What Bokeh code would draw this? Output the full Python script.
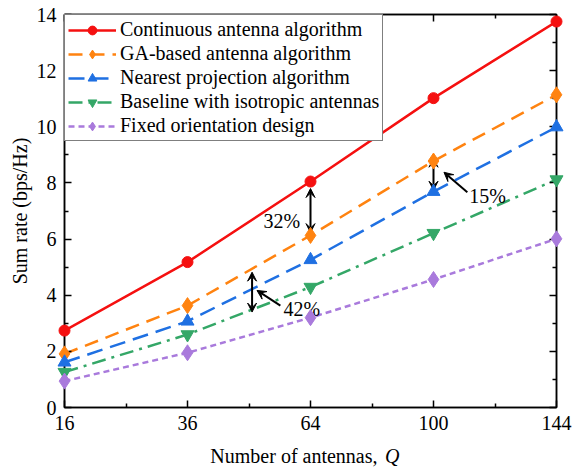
import numpy as np
from bokeh.plotting import figure
from bokeh.models import Range1d, LinearAxis, FixedTicker, Arrow, VeeHead, Label
from bokeh.core.properties import value
from bokeh.embed import file_html
from bokeh.resources import INLINE

# ---- data ----
Q = [16, 36, 64, 100, 144]
continuous = [2.74, 5.18, 8.05, 11.02, 13.75]
ga_based = [1.91, 3.63, 6.13, 8.78, 11.14]
nearest = [1.61, 3.07, 5.26, 7.69, 9.99]
baseline = [1.26, 2.60, 4.29, 6.21, 8.12]
fixed = [0.94, 1.95, 3.20, 4.56, 6.01]
series_names = ["Continuous antenna algorithm", "GA-based antenna algorithm",
                "Nearest projection algorithm", "Baseline with isotropic antennas",
                "Fixed orientation design"]
y_ticks = list(range(0, 15, 2))
y_minor = list(range(1, 14, 2))

FONT = "Liberation Serif"
FS = "20px"

x = [float(v) for v in np.sqrt(Q)]
x_minor = [(x[i] + x[i + 1]) / 2 for i in range(len(x) - 1)]

p = figure(width=576, height=468, output_backend="svg", toolbar_location=None,
           x_range=Range1d(x[0], x[-1]), y_range=Range1d(0, 14),
           x_axis_type=None, y_axis_type=None,
           min_border_left=64, min_border_right=20, min_border_top=14, min_border_bottom=61)
p.background_fill_color = "white"
p.border_fill_color = "white"
p.grid.visible = False
p.outline_line_color = "black"
p.outline_line_width = 1.5

xt = FixedTicker(ticks=x, minor_ticks=x_minor)
yt = FixedTicker(ticks=y_ticks, minor_ticks=y_minor)
overrides = {int(round(v)): str(q) for v, q in zip(x, Q)}

def style(ax, show):
    ax.axis_line_color = "black"
    ax.axis_line_width = 1.5
    ax.major_tick_in = 7
    ax.major_tick_out = 0
    ax.minor_tick_in = 4
    ax.minor_tick_out = 0
    ax.major_tick_line_width = 1.5
    ax.minor_tick_line_width = 1.5
    ax.major_tick_line_color = "black"
    ax.minor_tick_line_color = "black"
    ax.major_label_text_font = FONT
    ax.axis_label_text_font = FONT
    ax.axis_label_text_font_size = FS
    ax.axis_label_text_font_style = "normal"
    ax.axis_label_text_color = "black"
    if show:
        ax.major_label_text_font_size = FS
        ax.major_label_text_color = "black"
    else:
        ax.major_label_text_font_size = "1px"
        ax.major_label_text_color = None
        ax.major_label_standoff = 0

xb = LinearAxis(ticker=xt, major_label_overrides=overrides)
style(xb, True)
xb.major_label_standoff = 8
p.add_layout(xb, "below")
xa = LinearAxis(ticker=xt)
style(xa, False)
p.add_layout(xa, "above")
yl = LinearAxis(ticker=yt, axis_label="Sum rate (bps/Hz)")
style(yl, True)
yl.major_label_standoff = 8
yl.axis_label_standoff = 3
p.add_layout(yl, "left")
yr = LinearAxis(ticker=yt)
style(yr, False)
p.add_layout(yr, "right")

specs = [
    (continuous, "#F51010", "solid", "circle", 11),
    (ga_based, "#FF8310", "14 8", "diamond", 16),
    (nearest, "#1F70E2", "16 8", "triangle", 13),
    (baseline, "#34A767", "14 6 3 6", "inverted_triangle", 13),
    (fixed, "#A97ADC", "6 4", "diamond", 16),
]
for (ys, col, dash, mk, sz), name in zip(specs, series_names):
    p.line(x, ys, line_color=col, line_width=2.5, line_dash=dash, legend_label=name)
    p.scatter(x, ys, marker=mk, size=sz, fill_color=col, line_color=col,
              legend_label=name, level="overlay")

lg = p.legend[0]
lg.location = "top_left"
lg.margin = 0
lg.padding = 3
lg.spacing = 1
lg.glyph_width = 48
lg.glyph_height = 22
lg.label_height = 22
lg.label_standoff = 4
lg.label_text_font = FONT
lg.label_text_font_size = FS
lg.label_text_color = "black"
lg.border_line_color = "black"
lg.border_line_width = 1.5
lg.background_fill_color = "white"
lg.background_fill_alpha = 1.0

# ---- annotations ----
def sx(q):
    return float(np.sqrt(q))

def dbl(xv, y0, y1):
    p.add_layout(Arrow(x_start=xv, y_start=y0, x_end=xv, y_end=y1, line_width=2,
                       start=VeeHead(size=9, fill_color="black", line_color="black"),
                       end=VeeHead(size=9, fill_color="black", line_color="black")))

def ptr(x0, y0, x1, y1):
    p.add_layout(Arrow(x_start=x0, y_start=y0, x_end=x1, y_end=y1, line_width=2,
                       end=VeeHead(size=9, fill_color="black", line_color="black")))

# 32% between continuous and GA at Q=64
dbl(sx(64), continuous[2] - 0.25, ga_based[2] + 0.1)
p.add_layout(Label(x=7.83, y=6.63, text="32%", text_align="right", text_baseline="middle",
                   text_font=FONT, text_font_size=FS, text_color="black"))
# 15% between GA and nearest at Q=100
dbl(sx(100), ga_based[3] + 0.1, nearest[3] + 0.05)
ptr(10.55, 7.67, 10.17, 8.38)
p.add_layout(Label(x=10.58, y=7.55, text="15%", text_align="left", text_baseline="middle",
                   text_font=FONT, text_font_size=FS, text_color="black"))
# 42% between nearest and baseline, between Q=36 and Q=64
dbl(7.05, 4.82, 3.40)
ptr(7.51, 3.63, 7.13, 4.17)
p.add_layout(Label(x=7.56, y=3.52, text="42%", text_align="left", text_baseline="middle",
                   text_font=FONT, text_font_size=FS, text_color="black"))

# x axis title with italic Q (overlay-level text glyphs, not clipped to the frame)
p.text(x=[9.09], y=[-1.72], text=["Number of antennas,"], text_align="right",
       text_baseline="middle", text_font=value(FONT), text_font_size=FS,
       text_color="black", level="overlay")
p.text(x=[9.21], y=[-1.72], text=["Q"], text_align="left",
       text_baseline="middle", text_font=value(FONT), text_font_size=FS,
       text_font_style="italic", text_color="black", level="overlay")

open("out.html", "w").write(file_html(p, INLINE))
